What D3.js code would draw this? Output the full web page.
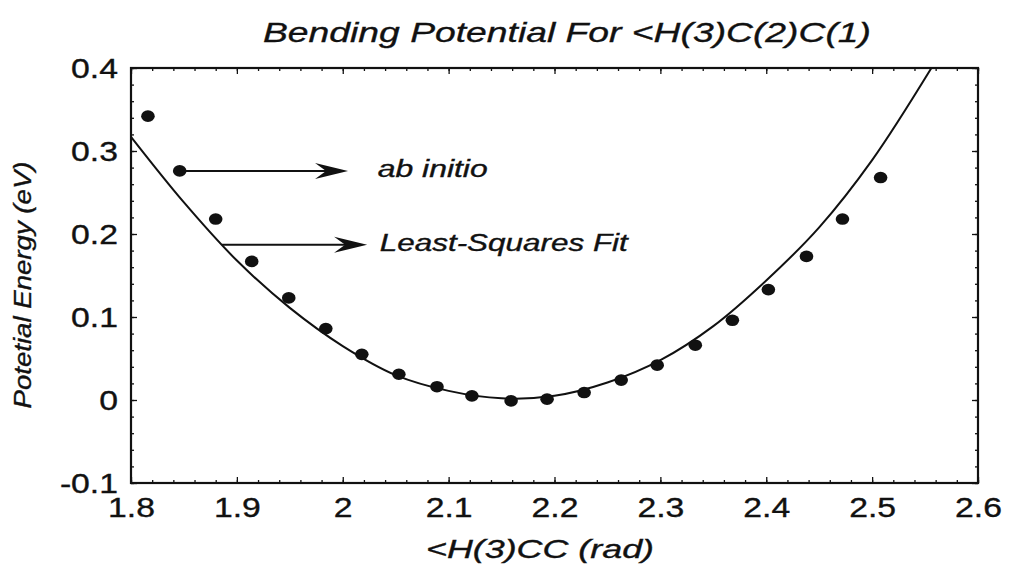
<!DOCTYPE html>
<html>
<head>
<meta charset="utf-8">
<script src="https://cdn.jsdelivr.net/npm/d3@7"></script>
<style>
  body { margin: 0; background: #fff; }
  text { font-family: "Liberation Sans", Arial, sans-serif; fill: #111; stroke: #111; stroke-width: 0.35px; }
</style>
</head>
<body>
<div id="chart"></div>
<script>
// ab initio points (rad, eV)
var abX = [1.816, 1.846, 1.880, 1.914, 1.949, 1.984, 2.018, 2.053, 2.089, 2.122, 2.159,
           2.193, 2.228, 2.263, 2.297, 2.333, 2.368, 2.402, 2.438, 2.472, 2.508];
var abY = [0.342, 0.276, 0.218, 0.167, 0.123, 0.086, 0.055, 0.031, 0.016, 0.005, -0.001,
           0.001, 0.009, 0.024, 0.042, 0.066, 0.096, 0.133, 0.173, 0.218, 0.268];

// least-squares fit curve
var fitX = [1.80, 1.85, 1.90, 1.95, 2.00, 2.05, 2.10, 2.15, 2.20, 2.25, 2.30, 2.35, 2.40, 2.45, 2.50, 2.556];
var fitY = [0.317, 0.238, 0.168, 0.111, 0.065, 0.030, 0.011, 0.002, 0.005, 0.021, 0.048, 0.089, 0.144, 0.208, 0.289, 0.400];

var xTicks = [1.8, 1.9, 2.0, 2.1, 2.2, 2.3, 2.4, 2.5, 2.6];
var yTicks = [-0.1, 0, 0.1, 0.2, 0.3, 0.4];

// annotations: [label, arrow start x, start y, arrow tip x, text x, text y, text width]
var notes = [
  ["ab initio", 1.846, 0.276, 2.005, 2.033, 0.269, 110],
  ["Least-Squares Fit", 1.886, 0.187, 2.023, 2.035, 0.180, 248]
];

var W = 1011, H = 567;
var mLeft = 131, mRight = 978, mTop = 68, mBottom = 483;
var sx = 1.25; // tick digits in the picture are wide

var svg = d3.select("#chart").append("svg")
    .attr("width", W)
    .attr("height", H);

var x = d3.scaleLinear().domain([1.8, 2.6]).range([mLeft, mRight]);
var y = d3.scaleLinear().domain([-0.1, 0.4]).range([mBottom, mTop]);

var fmt = function(d) { return String(+d.toFixed(2)); };

// minor ticks on all four sides
var xMinor = d3.range(1.8, 2.6001, 0.02);
var yMinor = d3.range(-0.1, 0.4001, 0.02);
svg.append("g").attr("transform", "translate(0," + mBottom + ")")
  .call(d3.axisBottom(x).tickValues(xMinor).tickSize(-3).tickFormat(""));
svg.append("g").attr("transform", "translate(0," + mTop + ")")
  .call(d3.axisTop(x).tickValues(xMinor).tickSize(-3).tickFormat(""));
svg.append("g").attr("transform", "translate(" + mLeft + ",0)")
  .call(d3.axisLeft(y).tickValues(yMinor).tickSize(-3).tickFormat(""));
svg.append("g").attr("transform", "translate(" + mRight + ",0)")
  .call(d3.axisRight(y).tickValues(yMinor).tickSize(-3).tickFormat(""));

// major ticks with labels
var gx = svg.append("g").attr("transform", "translate(0," + mBottom + ")")
  .call(d3.axisBottom(x).tickValues(xTicks).tickSize(-6).tickFormat(fmt));
gx.selectAll("text")
  .attr("y", 34).attr("dy", 0)
  .attr("transform", "scale(" + sx + ",1)")
  .style("font-size", "27px");

var gy = svg.append("g").attr("transform", "translate(" + mLeft + ",0)")
  .call(d3.axisLeft(y).tickValues(yTicks).tickSize(-6).tickFormat(fmt));
gy.selectAll("text")
  .attr("x", -13 / sx).attr("dy", "0.36em")
  .attr("transform", "scale(" + sx + ",1)")
  .style("font-size", "27px");

svg.append("g").attr("transform", "translate(0," + mTop + ")")
  .call(d3.axisTop(x).tickValues(xTicks).tickSize(-6).tickFormat(""));
svg.append("g").attr("transform", "translate(" + mRight + ",0)")
  .call(d3.axisRight(y).tickValues(yTicks).tickSize(-6).tickFormat(""));

svg.selectAll(".domain").remove();
svg.selectAll(".tick line").attr("stroke", "#111").attr("stroke-width", 1.3);

// frame
svg.append("rect")
  .attr("x", mLeft).attr("y", mTop)
  .attr("width", mRight - mLeft).attr("height", mBottom - mTop)
  .attr("fill", "none").attr("stroke", "#111").attr("stroke-width", 2.2);

// clip for the curve
svg.append("clipPath").attr("id", "plot")
  .append("rect").attr("x", mLeft).attr("y", mTop)
  .attr("width", mRight - mLeft).attr("height", mBottom - mTop);

var fit = fitX.map(function(d, i) { return [d, fitY[i]]; });
svg.append("path")
  .datum(fit)
  .attr("clip-path", "url(#plot)")
  .attr("fill", "none")
  .attr("stroke", "#111")
  .attr("stroke-width", 2)
  .attr("d", d3.line()
    .x(function(d) { return x(d[0]); })
    .y(function(d) { return y(d[1]); })
    .curve(d3.curveCatmullRom));

// data points
svg.selectAll(".pt")
  .data(abX.map(function(d, i) { return [d, abY[i]]; }))
  .enter().append("ellipse")
    .attr("cx", function(d) { return x(d[0]); })
    .attr("cy", function(d) { return y(d[1]); })
    .attr("rx", 6.8).attr("ry", 5.8)
    .attr("fill", "#111");

// arrows and their labels
notes.forEach(function(n) {
  var x0 = x(n[1]), y0 = y(n[2]), tx = x(n[3]);
  svg.append("line")
    .attr("x1", x0).attr("y1", y0)
    .attr("x2", tx - 20).attr("y2", y0)
    .attr("stroke", "#111").attr("stroke-width", 2);
  svg.append("path")
    .attr("d", "M" + tx + "," + y0 + "L" + (tx - 33) + "," + (y0 - 8) +
               "L" + (tx - 22) + "," + y0 + "L" + (tx - 33) + "," + (y0 + 8) + "Z")
    .attr("fill", "#111");
  svg.append("text")
    .attr("x", x(n[4])).attr("y", y(n[5]))
    .attr("textLength", n[6]).attr("lengthAdjust", "spacingAndGlyphs")
    .style("font-size", "23px")
    .style("font-style", "italic")
    .text(n[0]);
});

// title and axis titles
svg.append("text")
  .attr("x", 567).attr("y", 42)
  .attr("text-anchor", "middle")
  .attr("textLength", 608).attr("lengthAdjust", "spacingAndGlyphs")
  .style("font-size", "28px")
  .style("font-style", "italic")
  .text("Bending Potential For <H(3)C(2)C(1)");

svg.append("text")
  .attr("x", 540).attr("y", 558)
  .attr("text-anchor", "middle")
  .attr("textLength", 228).attr("lengthAdjust", "spacingAndGlyphs")
  .style("font-size", "25px")
  .style("font-style", "italic")
  .text("<H(3)CC (rad)");

svg.append("text")
  .attr("transform", "translate(31,285) rotate(-90)")
  .attr("text-anchor", "middle")
  .attr("textLength", 247).attr("lengthAdjust", "spacingAndGlyphs")
  .style("font-size", "23px")
  .style("font-style", "italic")
  .text("Potetial Energy (eV)");
</script>
</body>
</html>
